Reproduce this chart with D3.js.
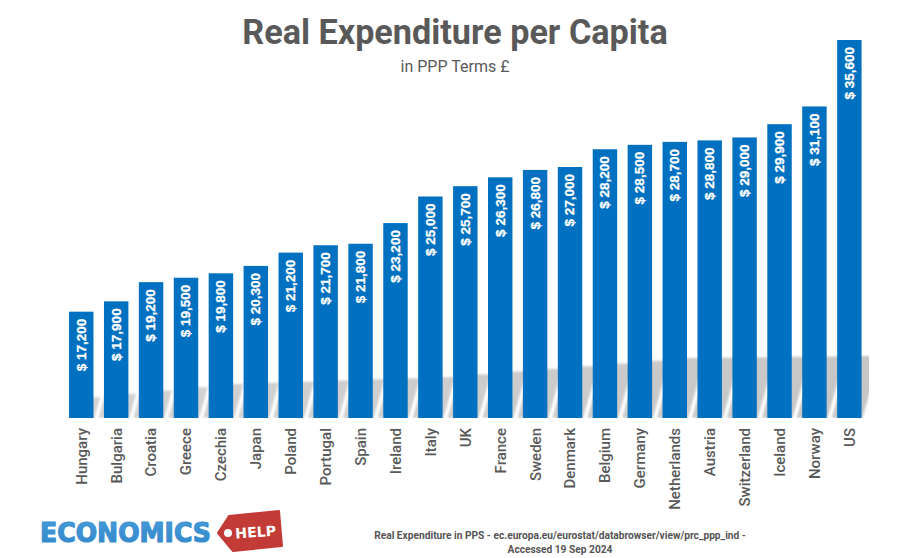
<!DOCTYPE html>
<html>
<head>
<meta charset="utf-8">
<script src="https://cdn.jsdelivr.net/npm/d3@7/dist/d3.min.js"></script>
<style>
  html, body { margin: 0; padding: 0; background: #fff; }
  svg { display: block; }
</style>
</head>
<body>
<svg></svg>
<script>
// Chart data.
var countries = ["Hungary","Bulgaria","Croatia","Greece","Czechia","Japan","Poland","Portugal","Spain","Ireland","Italy","UK","France","Sweden","Denmark","Belgium","Germany","Netherlands","Austria","Switzerland","Iceland","Norway","US"];
var values = [17200,17900,19200,19500,19800,20300,21200,21700,21800,23200,25000,25700,26300,26800,27000,28200,28500,28700,28800,29000,29900,31100,35600];
var titleText = "Real Expenditure per Capita";
var subtitleText = "in PPP Terms £";
var sourceLines = ["Real Expenditure in PPS - ec.europa.eu/eurostat/databrowser/view/prc_ppp_ind -", "Accessed 19 Sep 2024"];

var width = 900, height = 558;
var svg = d3.select("svg").attr("width", width).attr("height", height);
var defs = svg.append("defs");

// Soft blur for the shadow stripes behind the bars.
defs.append("filter").attr("id", "soft")
  .attr("x", "-30%").attr("width", "160%").attr("y", "-10%").attr("height", "120%")
  .append("feGaussianBlur").attr("stdDeviation", 1.2);

// Shadow only shows between the first bar and just past the last one.
defs.append("clipPath").attr("id", "shadowClip")
  .append("rect").attr("x", 72).attr("y", 300).attr("width", 797).attr("height", 118);

var logoGrad = defs.append("linearGradient").attr("id", "logoBlue")
  .attr("x1", 0).attr("x2", 0).attr("y1", 0).attr("y2", 1);
logoGrad.append("stop").attr("offset", "0%").attr("stop-color", "#4aa0dc");
logoGrad.append("stop").attr("offset", "100%").attr("stop-color", "#2f84c6");

// Scales. The value axis does not start at zero in the original.
var x = d3.scaleBand().domain(countries).range([63.8, 866.8]).paddingInner(0.3).paddingOuter(0.15);
var y = d3.scaleLinear().domain([10000, 35600]).range([418, 40]);

// Shadow top edge and strength climb from left to right.
var shadowTop = d3.scaleLinear().domain([0, 4, 10, 17, 22]).range([397, 384, 377, 358, 356]);
var shadowAlpha = d3.scaleLinear().domain([0, 22]).range([0.17, 0.22]);
var baseY = y.range()[0];

svg.append("g").attr("clip-path", "url(#shadowClip)").selectAll("path")
  .data(countries)
  .enter()
  .append("path")
  .attr("d", function (d, i) {
    var l = x(d) - 5.5, r = x(d) + x.bandwidth() + 1, t = shadowTop(i);
    var lean = (baseY - t) * 0.28;
    return "M" + l + "," + baseY + "L" + r + "," + baseY + "L" + (r + lean) + "," + t + "L" + (l + lean) + "," + t + "Z";
  })
  .attr("fill", "#000")
  .attr("opacity", function (d, i) { return shadowAlpha(i); })
  .attr("filter", "url(#soft)");

// Bars.
svg.append("g").selectAll("rect")
  .data(values)
  .enter()
  .append("rect")
  .attr("x", function (d, i) { return x(countries[i]); })
  .attr("y", function (d) { return y(d); })
  .attr("width", x.bandwidth())
  .attr("height", function (d) { return baseY - y(d); })
  .attr("fill", "#0070c0");

// Value labels, rotated inside the top of each bar.
svg.append("g").selectAll("text")
  .data(values)
  .enter()
  .append("text")
  .attr("transform", function (d, i) {
    return "translate(" + (x(countries[i]) + x.bandwidth() / 2 - 0.5) + "," + (y(d) + 7) + ") rotate(-90)";
  })
  .attr("text-anchor", "end")
  .attr("dy", "0.36em")
  .attr("font-family", "'Liberation Sans', Arial, sans-serif")
  .attr("font-weight", "bold")
  .attr("font-size", 13.5)
  .attr("fill", "#fff")
  .attr("stroke", "#fff")
  .attr("stroke-width", 0.3)
  .text(function (d) { return "$ " + d3.format(",")(d); });

// Category axis.
var xAxis = svg.append("g")
  .attr("transform", "translate(0," + baseY + ")")
  .call(d3.axisBottom(x).tickSize(0).tickPadding(10));
xAxis.select(".domain").remove();
xAxis.selectAll("text")
  .attr("transform", "rotate(-90)")
  .attr("text-anchor", "end")
  .attr("x", -10)
  .attr("y", 0)
  .attr("dy", "0.36em")
  .attr("font-family", "Roboto, sans-serif")
  .attr("font-weight", 500)
  .attr("font-size", 15)
  .attr("fill", "#595959");

// Titles.
svg.append("text")
  .attr("x", 455).attr("y", 44)
  .attr("text-anchor", "middle")
  .attr("font-family", "Roboto, sans-serif")
  .attr("font-weight", "bold")
  .attr("font-size", 34.2)
  .attr("fill", "#595959")
  .text(titleText);
svg.append("text")
  .attr("x", 455).attr("y", 72)
  .attr("text-anchor", "middle")
  .attr("font-family", "Roboto, sans-serif")
  .attr("font-size", 16)
  .attr("fill", "#595959")
  .text(subtitleText);

// Source note.
svg.append("g").selectAll("text")
  .data(sourceLines)
  .enter()
  .append("text")
  .attr("x", 560)
  .attr("y", function (d, i) { return 539 + i * 14; })
  .attr("text-anchor", "middle")
  .attr("font-family", "Roboto, sans-serif")
  .attr("font-weight", "bold")
  .attr("font-size", 10.2)
  .attr("fill", "#555")
  .text(function (d) { return d; });

// Logo, bottom left.
var logo = svg.append("g");
logo.append("text")
  .attr("x", 40).attr("y", 541.5)
  .attr("font-family", "'DejaVu Sans', sans-serif")
  .attr("font-weight", "bold")
  .attr("font-size", 27)
  .attr("textLength", 171)
  .attr("lengthAdjust", "spacingAndGlyphs")
  .attr("fill", "url(#logoBlue)")
  .attr("stroke", "#3a8fd0")
  .attr("stroke-width", 1.2)
  .attr("stroke-linejoin", "round")
  .text("ECONOMICS");
logo.append("path")
  .attr("d", "M218,533L229,516L279,511L282,546L233,551Z")
  .attr("fill", "#c23b36")
  .attr("stroke", "#c23b36")
  .attr("stroke-width", 2)
  .attr("stroke-linejoin", "round");
logo.append("circle").attr("cx", 228).attr("cy", 533).attr("r", 4).attr("fill", "#fff");
logo.append("text")
  .attr("transform", "translate(256,537) rotate(-4)")
  .attr("text-anchor", "middle")
  .attr("font-family", "'DejaVu Sans', sans-serif")
  .attr("font-weight", "bold")
  .attr("font-size", 14)
  .attr("textLength", 41)
  .attr("lengthAdjust", "spacingAndGlyphs")
  .attr("fill", "#fff")
  .text("HELP");
</script>
</body>
</html>
